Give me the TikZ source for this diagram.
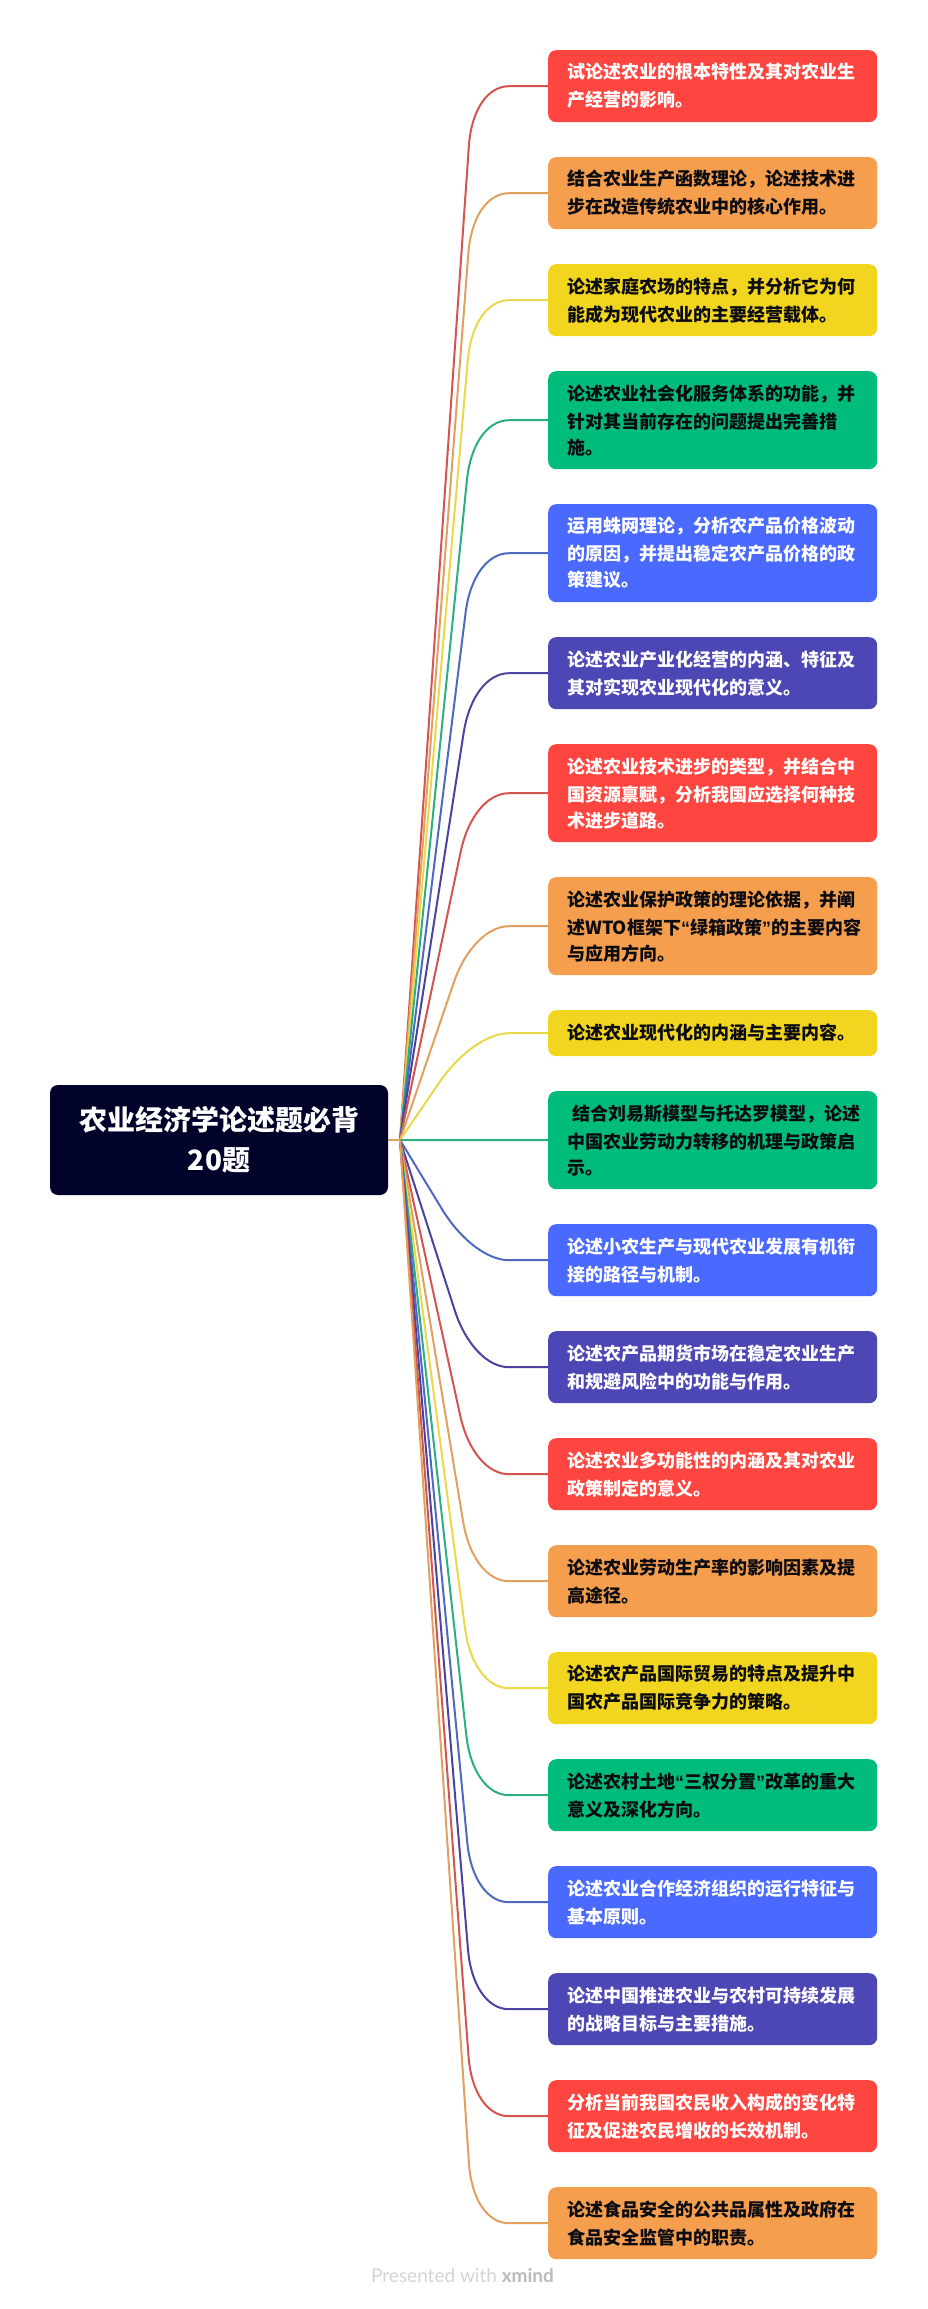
\documentclass[tikz,border=0pt]{standalone}
\usepackage{fontspec}
\usetikzlibrary{calc}
\newfontfamily\cjk{Noto Sans CJK SC}
\newfontfamily\footfont{Lato}
\newfontfamily\quotefont{Liberation Sans}
\newcommand{\openq}{{\quotefont\bfseries “}}
\newcommand{\closeq}{{\quotefont\bfseries ”}}
\newcommand{\fc}{^^^^ff0c}
\definecolor{cRed}{HTML}{FF453F}\definecolor{lRed}{HTML}{D4544F}
\definecolor{cOra}{HTML}{F59E4D}\definecolor{lOra}{HTML}{E0A060}
\definecolor{cYel}{HTML}{F1D51E}\definecolor{lYel}{HTML}{EBD84A}
\definecolor{cGre}{HTML}{00BC7B}\definecolor{lGre}{HTML}{2AAE82}
\definecolor{cBlu}{HTML}{4A69FF}\definecolor{lBlu}{HTML}{4F68C0}
\definecolor{cInd}{HTML}{4D46B5}\definecolor{lInd}{HTML}{4A449E}
\definecolor{cRoot}{HTML}{000229}
\definecolor{tDark}{HTML}{0B0B12}
\tikzset{
  topicbox/.style={anchor=north west,rounded corners=8pt,inner xsep=19pt,inner ysep=0pt,
    text width=291pt,align=left,font=\cjk\bfseries\fontsize{18}{26}\selectfont},
  redbox/.style={topicbox,fill=cRed,text=white},
  orabox/.style={topicbox,fill=cOra,text=tDark},
  yelbox/.style={topicbox,fill=cYel,text=tDark},
  grebox/.style={topicbox,fill=cGre,text=tDark},
  blubox/.style={topicbox,fill=cBlu,text=white},
  indbox/.style={topicbox,fill=cInd,text=white},
  rootbox/.style={rounded corners=8pt,fill=cRoot,text=white,inner sep=0pt,
    minimum width=338pt,minimum height=110pt,align=center,
    font=\cjk\bfseries\fontsize{28}{40}\selectfont},
  link/.style={line width=2pt},
  redlink/.style={link,draw=lRed}, oralink/.style={link,draw=lOra},
  yellink/.style={link,draw=lYel}, grelink/.style={link,draw=lGre},
  blulink/.style={link,draw=lBlu}, indlink/.style={link,draw=lInd}
}
\newcommand{\topic}[5]{%
  \node[#4box,minimum height=#3pt] (b#1) at (548,#2) {\vspace*{2pt}#5};
  \coordinate (k#1) at ($(b#1.west)+(-75,0)$);
  \coordinate (a#1) at ($(k#1)!60pt!(j)$);
  \coordinate (e#1) at ($(k#1)+(36,0)$);
  \begin{pgfonlayer}{linklayer}
  \draw[#4link] (j) -- (a#1) .. controls ($(a#1)!0.6!(k#1)$) and ($(e#1)!0.6!(k#1)$) .. (e#1) -- (b#1.west);
  \end{pgfonlayer}
}
\pgfdeclarelayer{linklayer}
\pgfsetlayers{linklayer,main}
\begin{document}
\begin{tikzpicture}[x=1pt,y=-1pt]
\useasboundingbox (0,0) rectangle (927,2309);
\node[rootbox] (root) at (219,1140) {\vspace*{2pt}农业经济学论述题必背\\20题};
\coordinate (j) at (400,1140);
\topic{1}{50}{72}{red}{试论述农业的根本特性及其对农业生\\产经营的影响。}
\topic{2}{157}{72}{ora}{结合农业生产函数理论\fc 论述技术进\\步在改造传统农业中的核心作用。}
\topic{3}{264}{72}{yel}{论述家庭农场的特点\fc 并分析它为何\\能成为现代农业的主要经营载体。}
\topic{4}{371}{98}{gre}{论述农业社会化服务体系的功能\fc 并\\针对其当前存在的问题提出完善措\\施。}
\topic{5}{504}{98}{blu}{运用蛛网理论\fc 分析农产品价格波动\\的原因\fc 并提出稳定农产品价格的政\\策建议。}
\topic{6}{637}{72}{ind}{论述农业产业化经营的内涵、特征及\\其对实现农业现代化的意义。}
\topic{7}{744}{98}{red}{论述农业技术进步的类型\fc 并结合中\\国资源禀赋\fc 分析我国应选择何种技\\术进步道路。}
\topic{8}{877}{98}{ora}{论述农业保护政策的理论依据\fc 并阐\\\mbox{述WTO框架下\openq 绿箱政策\closeq 的主要内容}\\与应用方向。}
\topic{9}{1010}{46}{yel}{论述农业现代化的内涵与主要内容。}
\topic{10}{1091}{98}{gre}{\mbox{\hspace*{5pt}结合刘易斯模型与托达罗模型\fc 论述}\\中国农业劳动力转移的机理与政策启\\示。}
\topic{11}{1224}{72}{blu}{论述小农生产与现代农业发展有机衔\\接的路径与机制。}
\topic{12}{1331}{72}{ind}{论述农产品期货市场在稳定农业生产\\和规避风险中的功能与作用。}
\topic{13}{1438}{72}{red}{论述农业多功能性的内涵及其对农业\\政策制定的意义。}
\topic{14}{1545}{72}{ora}{论述农业劳动生产率的影响因素及提\\高途径。}
\topic{15}{1652}{72}{yel}{论述农产品国际贸易的特点及提升中\\国农产品国际竞争力的策略。}
\topic{16}{1759}{72}{gre}{\mbox{论述农村土地\openq 三权分置\closeq 改革的重大}\\意义及深化方向。}
\topic{17}{1866}{72}{blu}{论述农业合作经济组织的运行特征与\\基本原则。}
\topic{18}{1973}{72}{ind}{论述中国推进农业与农村可持续发展\\的战略目标与主要措施。}
\topic{19}{2080}{72}{red}{分析当前我国农民收入构成的变化特\\征及促进农民增收的长效机制。}
\topic{20}{2187}{72}{ora}{论述食品安全的公共品属性及政府在\\食品安全监管中的职责。}
\begin{pgfonlayer}{linklayer}
\draw[oralink] (root.east) -- (j);
\end{pgfonlayer}
\node[anchor=base west,inner sep=0pt,font=\footfont\fontsize{19}{22}\selectfont,text=black!17] (foot) at (371,2282) {Presented with \textcolor{black!27}{\bfseries xmind}};
\end{tikzpicture}
\end{document}
